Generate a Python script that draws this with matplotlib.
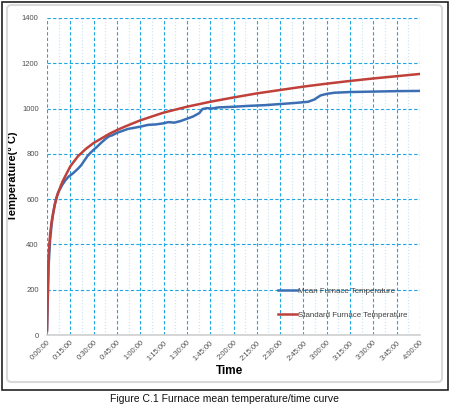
import matplotlib
matplotlib.use('Agg')
import matplotlib.pyplot as plt
from matplotlib.patches import Rectangle, FancyBboxPatch

plt.rcParams['font.family'] = ['Liberation Sans', 'DejaVu Sans']

# Standard furnace temperature, minutes / deg C
std_min = [0, 1, 2, 3, 5, 7, 10, 15, 20, 25, 30, 40, 45, 50, 60, 75, 90,
           105, 120, 135, 150, 165, 180, 195, 210, 225, 240]
std_temp = [20, 349, 445, 502, 576, 626, 678, 745, 790, 822, 848, 888, 905,
            920, 948, 982, 1008, 1030, 1049, 1067, 1082, 1097, 1110, 1122,
            1133, 1143, 1153]

# Mean furnace temperature
mean_min = [0, 1, 2, 3, 4, 5, 6, 7, 8, 10, 12, 14, 16, 18, 20, 22, 24, 26,
            28, 30, 32, 35, 38, 40, 42, 45, 48, 52, 56, 60, 65, 70, 75, 78,
            82, 86, 90, 94, 98, 100, 103, 106, 110, 120, 130, 140, 150, 160,
            168, 172, 176, 180, 185, 195, 210, 225, 240]
mean_temp = [20, 300, 420, 490, 540, 575, 605, 625, 640, 665, 685, 700, 710,
             722, 735, 750, 770, 790, 805, 818, 830, 850, 868, 878, 882, 893,
             900, 910, 915, 920, 928, 930, 935, 940, 938, 945, 955, 965, 980,
             998, 1002, 1000, 1005, 1008, 1012, 1015, 1020, 1025, 1030, 1040,
             1058, 1065, 1070, 1073, 1075, 1077, 1078]

tick_min = list(range(0, 241, 15))
tick_labels = ['0:00:00', '0:15:00', '0:30:00', '0:45:00', '1:00:00', '1:15:00',
               '1:30:00', '1:45:00', '2:00:00', '2:15:00', '2:30:00', '2:45:00',
               '3:00:00', '3:15:00', '3:30:00', '3:45:00', '4:00:00']

fig = plt.figure(figsize=(4.5, 4.12), dpi=100)

# outer frame and inner rounded chart border
fig.patches.append(Rectangle((2/450, 1 - 390/412), 446/450, 388/412,
                             transform=fig.transFigure, fill=False,
                             edgecolor='#222222', linewidth=1.2))
fig.patches.append(FancyBboxPatch((7/450, 1 - 382/412), 435/450, 377/412,
                                  boxstyle='round,pad=0,rounding_size=0.01',
                                  transform=fig.transFigure, fill=False,
                                  edgecolor='#D9D9D9', linewidth=1.5))

ax = fig.add_axes([47/450, 1 - 335/412, 373/450, 317/412])

ax.plot(mean_min, mean_temp, color='#3C6EB4', linewidth=1.8,
        label='Mean Furnace Temperature', zorder=3)
ax.plot(std_min, std_temp, color='#C0403A', linewidth=1.8,
        label='Standard Furnace Temperature', zorder=4)

ax.set_xlim(0, 240)
ax.set_ylim(0, 1400)
ax.set_xticks(tick_min)
ax.set_xticklabels(tick_labels, rotation=45, ha='right', rotation_mode='anchor',
                   fontsize=5.5, color='#505050')
ax.set_xticks([m + 7.5 for m in tick_min[:-1]], minor=True)
ax.set_yticks(range(0, 1401, 200))
ax.tick_params(axis='y', labelsize=5.5, labelcolor='#505050', length=0, pad=6)
ax.tick_params(axis='x', which='both', length=0, pad=3)

ax.grid(True, which='major', color='#1EA6E3', linestyle=(0, (3, 2)), linewidth=0.8)
ax.grid(True, which='minor', axis='x', color='#CDE6F4', linestyle=(0, (1, 1.5)),
        linewidth=0.9)

for side in ['left', 'top', 'right']:
    ax.spines[side].set_visible(False)
ax.spines['bottom'].set_color('#D0D0D0')
ax.spines['bottom'].set_linewidth(1.2)

ax.set_ylabel('Temperature(° C)', fontsize=8, fontweight='bold')
ax.yaxis.set_label_coords(-0.078, 0.5)
ax.set_xlabel('Time', fontsize=8.5, fontweight='bold')
ax.xaxis.set_label_coords(0.49, -0.095)

leg = ax.legend(loc='lower right', bbox_to_anchor=(0.975, 0.04), frameon=False,
                fontsize=5.7, handlelength=2.4, labelspacing=2.1,
                handletextpad=0.1, borderaxespad=0)
for t in leg.get_texts():
    t.set_color('#404040')

fig.text(0.5, 1 - 399/412, 'Figure C.1 Furnace mean temperature/time curve',
         ha='center', va='center', fontsize=7.5, color='#111111')

plt.savefig('out.png', dpi=100)
